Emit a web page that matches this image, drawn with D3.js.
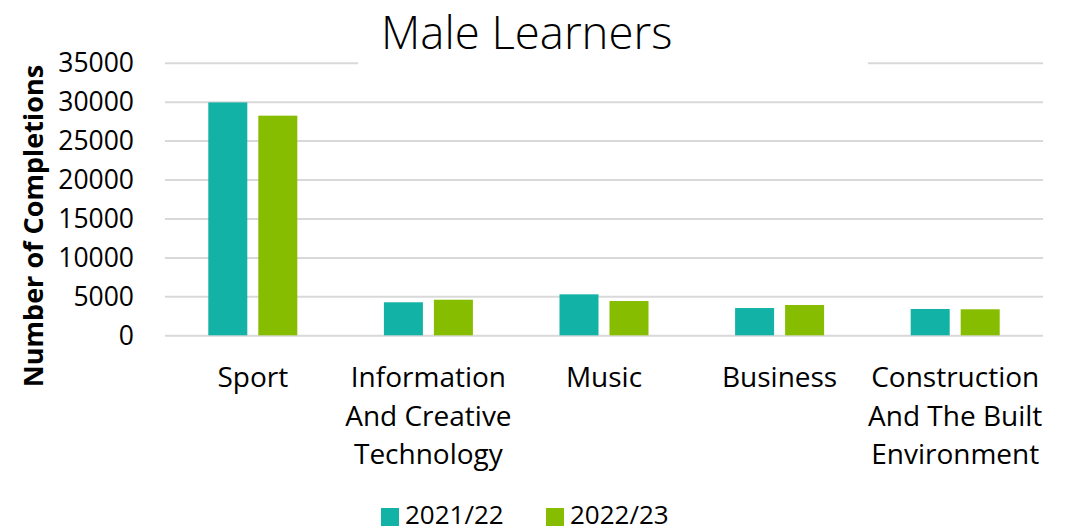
<!DOCTYPE html>
<html>
<head>
<meta charset="utf-8">
<script src="https://cdn.jsdelivr.net/npm/d3@7"></script>
<style>
  body { margin: 0; background: #fff; }
  svg { display: block; font-family: "Open Sans", sans-serif; }
</style>
</head>
<body>
<svg width="1068" height="532"></svg>
<script>
// data
const categories = ["Sport", "Information And Creative Technology", "Music", "Business", "Construction And The Built Environment"];
const labelLines = [["Sport"], ["Information", "And Creative", "Technology"], ["Music"], ["Business"], ["Construction", "And The Built", "Environment"]];
const series = ["2021/22", "2022/23"];
const values2122 = [29900, 4240, 5260, 3500, 3380];
const values2223 = [28200, 4570, 4400, 3890, 3340];
const yTicks = [0, 5000, 10000, 15000, 20000, 25000, 30000, 35000];
const colors = ["#13b2a6", "#86bd00"];

const svg = d3.select("svg");

// plot area
const plotLeft = 165, plotRight = 1043, plotTop = 62.7, plotBottom = 335.3;

const x = d3.scaleBand().domain(categories).range([plotLeft, plotRight]).paddingInner(0).paddingOuter(0);
const inner = d3.scaleBand().domain(series).range([43.3, 43.3 + 89]).paddingInner(0.22);
const y = d3.scaleLinear().domain([0, 35000]).range([plotBottom, plotTop]);

// gridlines
svg.append("g")
  .attr("transform", `translate(${plotLeft},0)`)
  .call(d3.axisLeft(y).tickValues(yTicks).tickSize(-(plotRight - plotLeft)).tickFormat(""))
  .call(g => g.select(".domain").remove())
  .call(g => g.selectAll("line").attr("stroke", "#d9d9d9").attr("stroke-width", 2));

// tick labels
svg.append("g")
  .selectAll("text")
  .data(yTicks)
  .join("text")
  .attr("x", 134)
  .attr("y", d => y(d))
  .attr("dy", "0.36em")
  .attr("text-anchor", "end")
  .attr("font-size", 26.5)
  .attr("fill", "#000")
  .text(d => d);

// bars
const rows = categories.map((c, i) => ({ cat: c, vals: [values2122[i], values2223[i]] }));
const groups = svg.append("g")
  .selectAll("g")
  .data(rows)
  .join("g")
  .attr("transform", d => `translate(${x(d.cat)},0)`);

groups.selectAll("rect")
  .data(d => d.vals.map((v, j) => ({ s: series[j], v: v, j: j })))
  .join("rect")
  .attr("x", d => inner(d.s))
  .attr("width", inner.bandwidth())
  .attr("y", d => y(d.v))
  .attr("height", d => y(0) - y(d.v))
  .attr("fill", d => colors[d.j]);

// category labels
const catLabels = svg.append("g")
  .selectAll("text")
  .data(categories)
  .join("text")
  .attr("x", d => x(d) + x.bandwidth() / 2)
  .attr("y", 387)
  .attr("text-anchor", "middle")
  .attr("font-size", 28)
  .attr("fill", "#000");

catLabels.selectAll("tspan")
  .data((d, i) => labelLines[i])
  .join("tspan")
  .attr("x", function () { return this.parentNode.getAttribute("x"); })
  .attr("dy", (d, i) => i === 0 ? 0 : 38.5)
  .text(d => d);

// title with white box behind it
svg.append("rect")
  .attr("x", 358).attr("y", 0)
  .attr("width", 510).attr("height", 68)
  .attr("fill", "#fff");
svg.append("text")
  .attr("x", 381)
  .attr("y", 49)
  .attr("font-size", 45.5)
  .attr("font-weight", 300)
  .attr("fill", "#000")
  .text("Male Learners");

// y axis title
svg.append("text")
  .attr("transform", "translate(43,226) rotate(-90)")
  .attr("text-anchor", "middle")
  .attr("font-size", 27)
  .attr("font-weight", 700)
  .attr("fill", "#000")
  .text("Number of Completions");

// legend
const legendX = [381, 546];
const legend = svg.append("g")
  .selectAll("g")
  .data(series)
  .join("g")
  .attr("transform", (d, i) => `translate(${legendX[i]},508)`);
legend.append("rect")
  .attr("width", 18).attr("height", 18)
  .attr("fill", (d, i) => colors[i]);
legend.append("text")
  .attr("x", 24)
  .attr("y", 16)
  .attr("font-size", 26)
  .attr("fill", "#000")
  .text(d => d);
</script>
</body>
</html>
